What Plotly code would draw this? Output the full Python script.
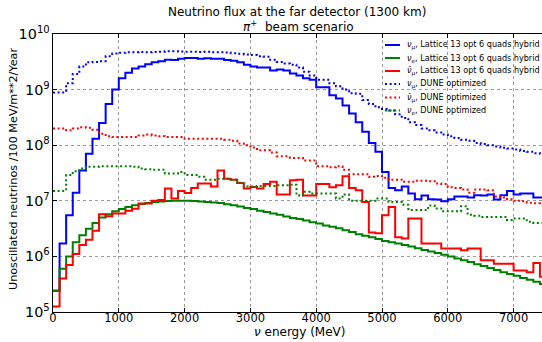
import plotly.graph_objects as go

# ---------------- data (per 100 MeV bin, 0 - 7500 MeV) ----------------
bin_edges = list(range(0, 7600, 100))

numu_lattice = [2.4e5, 1.7e6, 5.5e6, 1.4e7, 3.5e7, 7.0e7, 1.3e8, 2.5e8, 5.5e8, 1.0e9,
                1.6e9, 2.0e9, 2.4e9, 2.6e9, 2.85e9, 3.1e9, 3.25e9, 3.45e9, 3.4e9, 3.6e9,
                3.7e9, 3.7e9, 3.6e9, 3.65e9, 3.6e9, 3.6e9, 3.4e9, 3.3e9, 3.1e9, 2.8e9,
                2.6e9, 2.5e9, 2.5e9, 2.2e9, 2.3e9, 2.2e9, 1.95e9, 1.8e9, 1.6e9, 1.5e9,
                1.1e9, 1.1e9, 7.9e8, 6.9e8, 5.2e8, 3.7e8, 2.6e8, 1.74e8, 1.1e8, 7.6e7,
                3.3e7, 1.7e7, 1.55e7, 1.8e7, 1.35e7, 1.07e7, 1.24e7, 1.07e7, 1.05e7, 9.8e6,
                1.07e7, 1.2e7, 1.2e7, 1.15e7, 1.26e7, 1.25e7, 1.3e7, 1.05e7, 1.26e7, 1.5e7,
                1.3e7, 1.35e7, 1.35e7, 1.15e7, 1.15e7]

nue_lattice = [2.4e5, 6.0e5, 1.0e6, 1.8e6, 2.4e6, 3.15e6, 4.0e6, 5.0e6, 5.7e6, 6.5e6,
               7.1e6, 7.7e6, 8.3e6, 8.8e6, 9.1e6, 9.5e6, 9.7e6, 9.9e6, 1.0e7, 1.0e7,
               1.0e7, 9.9e6, 9.7e6, 9.5e6, 9.3e6, 9.1e6, 8.7e6, 8.3e6, 7.9e6, 7.4e6,
               7.1e6, 6.6e6, 6.3e6, 5.9e6, 5.6e6, 5.2e6, 4.9e6, 4.7e6, 4.4e6, 4.1e6,
               3.9e6, 3.6e6, 3.4e6, 3.2e6, 2.95e6, 2.75e6, 2.5e6, 2.35e6, 2.2e6, 2.05e6,
               1.9e6, 1.8e6, 1.7e6, 1.6e6, 1.5e6, 1.4e6, 1.3e6, 1.22e6, 1.15e6, 1.07e6,
               1.0e6, 9.2e5, 8.5e5, 7.9e5, 7.2e5, 6.7e5, 6.2e5, 5.7e5, 5.2e5, 4.8e5,
               4.5e5, 4.1e5, 3.8e5, 3.5e5, 3.2e5]

numubar_lattice = [1.25e5, 4.0e5, 7.0e5, 1.1e6, 1.6e6, 2.0e6, 2.9e6, 5.7e6, 5.3e6, 5.9e6,
                   5.9e6, 6.6e6, 7.2e6, 8.9e6, 8.9e6, 1.0e7, 1.03e7, 1.67e7, 1.1e7, 1.5e7,
                   1.38e7, 1.7e7, 2.05e7, 2.05e7, 1.8e7, 3.5e7, 2.5e7, 2.4e7, 2.1e7, 1.67e7,
                   1.78e7, 1.67e7, 2.0e7, 2.2e7, 1.3e7, 1.3e7, 2.35e7, 2.4e7, 1.25e7, 1.25e7,
                   2.0e7, 2.0e7, 1.75e7, 1.9e7, 2.75e7, 1.7e7, 1.55e7, 9.5e6, 2.7e6, 2.6e6,
                   5.5e6, 7.7e6, 2.2e6, 2.1e6, 4.8e6, 4.8e6, 1.7e6, 1.7e6, 1.7e6, 1.38e6,
                   1.38e6, 1.38e6, 1.29e6, 1.38e6, 1.38e6, 8.5e5, 8.5e5, 7.4e5, 7.4e5, 7.4e5,
                   5.6e5, 5.6e5, 5.2e5, 7.6e5, 4.3e5]

numu_dune = [8.9e8, 8.9e8, 1.3e9, 1.9e9, 2.6e9, 3.1e9, 3.15e9, 3.25e9, 4.0e9, 4.45e9,
             4.6e9, 4.7e9, 4.7e9, 4.75e9, 4.7e9, 4.75e9, 4.8e9, 4.9e9, 4.9e9, 4.85e9,
             4.8e9, 4.8e9, 4.75e9, 4.8e9, 4.7e9, 4.7e9, 4.65e9, 4.5e9, 4.4e9, 4.3e9,
             4.2e9, 4.0e9, 3.9e9, 3.45e9, 3.15e9, 2.95e9, 2.8e9, 2.5e9, 2.1e9, 1.8e9,
             1.5e9, 1.5e9, 1.3e9, 1.15e9, 1.0e9, 8.6e8, 8.4e8, 6.5e8, 5.5e8, 4.8e8,
             4.5e8, 4.2e8, 3.6e8, 3.1e8, 2.6e8, 2.3e8, 2.0e8, 1.85e8, 1.7e8, 1.55e8,
             1.45e8, 1.35e8, 1.25e8, 1.2e8, 1.1e8, 1.05e8, 1.0e8, 9.5e7, 9.0e7, 8.7e7,
             8.4e7, 7.9e7, 7.6e7, 7.2e7, 7.0e7]

numubar_dune = [2.0e8, 2.0e8, 1.85e8, 2.0e8, 2.1e8, 2.05e8, 1.9e8, 1.6e8, 1.45e8, 1.4e8,
                1.4e8, 1.4e8, 1.4e8, 1.5e8, 1.55e8, 1.5e8, 1.45e8, 1.4e8, 1.4e8, 1.4e8,
                1.3e8, 1.3e8, 1.3e8, 1.3e8, 1.3e8, 1.3e8, 1.25e8, 1.2e8, 1.07e8, 1.0e8,
                9.1e7, 8.1e7, 8.1e7, 7.4e7, 6.3e7, 6.3e7, 5.9e7, 5.9e7, 5.3e7, 5.3e7,
                4.2e7, 4.2e7, 4.0e7, 4.2e7, 3.6e7, 3.0e7, 3.0e7, 3.0e7, 2.7e7, 2.8e7,
                2.6e7, 2.4e7, 2.4e7, 2.2e7, 2.2e7, 2.3e7, 2.3e7, 2.25e7, 2.05e7, 2.0e7,
                1.75e7, 1.7e7, 1.6e7, 1.4e7, 1.6e7, 1.6e7, 1.55e7, 1.2e7, 1.15e7, 1.07e7,
                1.0e7, 9.8e6, 9.2e6, 9.0e6, 8.5e6]

nue_dune = [1.5e7, 1.5e7, 2.9e7, 3.4e7, 3.8e7, 4.1e7, 4.1e7, 4.2e7, 4.2e7, 4.2e7,
            4.2e7, 4.2e7, 4.1e7, 3.8e7, 3.7e7, 3.6e7, 3.6e7, 3.1e7, 3.1e7, 3.3e7,
            2.9e7, 2.9e7, 2.7e7, 2.4e7, 2.4e7, 2.5e7, 2.5e7, 2.4e7, 2.1e7, 1.8e7,
            1.8e7, 1.85e7, 1.85e7, 1.85e7, 1.9e7, 1.9e7, 1.95e7, 1.25e7, 1.45e7, 1.35e7,
            1.35e7, 1.35e7, 1.35e7, 1.1e7, 1.3e7, 1.0e7, 1.0e7, 1.0e7, 1.0e7, 1.1e7,
            1.1e7, 9.5e6, 9.5e6, 8.5e6, 6.8e6, 6.8e6, 6.8e6, 8.2e6, 7.3e6, 6.5e6,
            6.5e6, 6.5e6, 8.0e6, 5.6e6, 5.4e6, 5.1e6, 5.1e6, 5.1e6, 5.1e6, 4.5e6,
            4.8e6, 4.8e6, 4.2e6, 4.0e6, 4.0e6]

series_names = [
    "<i>ν</i><sub>μ</sub>, Lattice 13 opt 6 quads hybrid",
    "<i>ν</i><sub>e</sub>, Lattice 13 opt 6 quads hybrid",
    "<i>ν̄</i><sub>μ</sub>, Lattice 13 opt 6 quads hybrid",
    "<i>ν</i><sub>μ</sub>, DUNE optimized",
    "<i>ν̄</i><sub>μ</sub>, DUNE optimized",
    "<i>ν</i><sub>e</sub>, DUNE optimized",
]
series_values = [numu_lattice, nue_lattice, numubar_lattice, numu_dune, numubar_dune, nue_dune]
series_colors = ["#0000ff", "#008000", "#ff0000", "#0000ff", "#ff0000", "#008000"]
series_dash = ["solid", "solid", "solid", "2px,2.6px", "2px,2.6px", "2px,2.6px"]

# ---------------- layout geometry (pixels) ----------------
W_FIG, H_FIG = 542, 342
L, T = 53, 34
PW, PH = W_FIG - L, 278
B = H_FIG - T - PH
FONT = "DejaVu Sans"


def px_x(px):
    return (px - L) / PW


def px_y(py):
    return (T + PH - py) / PH


fig = go.Figure()
for name, vals, col, dash in zip(series_names, series_values, series_colors, series_dash):
    fig.add_trace(go.Scatter(
        x=bin_edges, y=list(vals) + [vals[-1]], mode="lines", line_shape="hv",
        line=dict(color=col, width=2, dash=dash), name=name, showlegend=False,
        hoverinfo="skip"))

# manual compact legend
leg_rows = [45, 58, 71, 84, 97.5, 110.5]
shapes = []
annotations = []
for name, col, dash, ry in zip(series_names, series_colors, series_dash, leg_rows):
    shapes.append(dict(type="line", xref="paper", yref="paper",
                       x0=px_x(385), x1=px_x(400), y0=px_y(ry), y1=px_y(ry),
                       line=dict(color=col, width=2, dash=dash)))
    annotations.append(dict(text=name, xref="paper", yref="paper", x=px_x(405),
                            y=px_y(ry), xanchor="left", yanchor="middle",
                            showarrow=False, font=dict(family=FONT, size=8.1, color="black")))

# titles and axis labels
annotations += [
    dict(text="Neutrino flux at the far detector (1300 km)", xref="paper", yref="paper",
         x=px_x(297), y=px_y(12), xanchor="center", yanchor="middle", showarrow=False,
         font=dict(family=FONT, size=12, color="black")),
    dict(text="<i>π</i><sup>+</sup>  beam scenario", xref="paper", yref="paper",
         x=px_x(298), y=px_y(26.5), xanchor="center", yanchor="middle", showarrow=False,
         font=dict(family=FONT, size=12, color="black")),
    dict(text="<i>ν</i> energy (MeV)", xref="paper", yref="paper",
         x=px_x(299), y=px_y(332), xanchor="center", yanchor="middle", showarrow=False,
         font=dict(family=FONT, size=12, color="black")),
    dict(text="Unoscillated neutrinos /100 MeV/m**2/Year", xref="paper", yref="paper",
         x=px_x(13), y=px_y(169), xanchor="center", yanchor="middle", showarrow=False,
         textangle=-90, font=dict(family=FONT, size=11.2, color="black")),
]

fig.update_layout(
    width=W_FIG, height=H_FIG,
    margin=dict(l=L, r=0, t=T, b=B, pad=0),
    paper_bgcolor="white", plot_bgcolor="white",
    font=dict(family=FONT, size=11, color="black"),
    shapes=shapes, annotations=annotations, showlegend=False,
)
fig.update_xaxes(
    range=[0, PW / 0.0658], tickvals=[0, 1000, 2000, 3000, 4000, 5000, 6000, 7000],
    ticks="inside", ticklen=4, tickcolor="black", showline=True, linecolor="black",
    linewidth=1, mirror="ticks", showgrid=True, gridcolor="#9a9a9a", griddash="dot",
    gridwidth=1, zeroline=False, ticklabelstandoff=-5,
    tickfont=dict(family=FONT, size=11.5, color="black"))
fig.update_yaxes(
    type="log", range=[5, 10], dtick=1, exponentformat="power", showexponent="all",
    ticks="inside", ticklen=4, tickcolor="black", showline=True, linecolor="black",
    linewidth=1, mirror=False, showgrid=True, gridcolor="#9a9a9a", griddash="dot",
    gridwidth=1, zeroline=False,
    tickfont=dict(family=FONT, size=11.5, color="black"))

fig.write_html("out.html")
